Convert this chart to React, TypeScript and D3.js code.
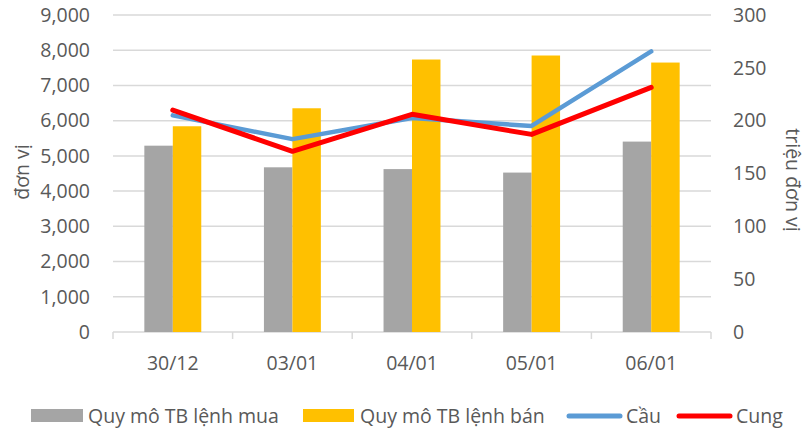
import * as d3 from "d3";

// categories and series values
const dates = ["30/12", "03/01", "04/01", "05/01", "06/01"];
const buySize = [5290, 4676, 4625, 4526, 5406]; // Quy mô TB lệnh mua (đơn vị)
const sellSize = [5841, 6352, 7736, 7850, 7650]; // Quy mô TB lệnh bán (đơn vị)
const demand = [205, 182.5, 202.5, 195, 265.5]; // Cầu (triệu đơn vị)
const supply = [210, 171, 206, 187, 231.5]; // Cung (triệu đơn vị)
const leftTicks = [0, 1000, 2000, 3000, 4000, 5000, 6000, 7000, 8000, 9000];
const rightTicks = [0, 50, 100, 150, 200, 250, 300];

const W = 812;
const H = 433;
const margin = { left: 113, right: 101, top: 15, bottom: 101 };
const font = "'Open Sans', 'Noto Sans', sans-serif";
const textColor = "#595959";
const fs = 19.5;

export default function App() {
  const innerW = W - margin.left - margin.right;
  const innerH = H - margin.top - margin.bottom;

  const x = d3.scaleBand().domain(dates).range([0, innerW]);
  const yL = d3.scaleLinear().domain([0, 9000]).range([innerH, 0]);
  const yR = d3.scaleLinear().domain([0, 300]).range([innerH, 0]);
  const barW = x.bandwidth() * 0.238;
  const fmt = d3.format(",");

  const line = (vals: number[]) =>
    d3
      .line<number>()
      .x((_, i) => (x(dates[i]) ?? 0) + x.bandwidth() / 2)
      .y((d) => yR(d))(vals) ?? "";

  return (
    <svg
      width={W}
      height={H}
      style={{ position: "absolute", left: 0, top: 0, background: "#fff" }}
      fontFamily={font}
    >
      <g transform={`translate(${margin.left},${margin.top})`}>
        {leftTicks.map((t) => (
          <line key={t} x1={0} x2={innerW} y1={yL(t)} y2={yL(t)} stroke="#d9d9d9" strokeWidth={1.5} />
        ))}
        {/* x axis ticks */}
        {d3.range(dates.length + 1).map((i) => (
          <line
            key={i}
            x1={i * x.step()}
            x2={i * x.step()}
            y1={innerH}
            y2={innerH + 7}
            stroke="#d9d9d9"
            strokeWidth={1.5}
          />
        ))}
        {dates.map((d, i) => {
          const c = (x(d) ?? 0) + x.bandwidth() / 2;
          return (
            <g key={d}>
              <rect x={c - barW} y={yL(buySize[i])} width={barW} height={innerH - yL(buySize[i])} fill="#a5a5a5" />
              <rect x={c} y={yL(sellSize[i])} width={barW} height={innerH - yL(sellSize[i])} fill="#ffc000" />
              <text x={c} y={innerH + 31} dy="0.35em" textAnchor="middle" fontSize={fs} fill={textColor}>
                {d}
              </text>
            </g>
          );
        })}
        <path d={line(demand)} fill="none" stroke="#5b9bd5" strokeWidth={4.5} strokeLinecap="round" strokeLinejoin="round" />
        <path d={line(supply)} fill="none" stroke="#ff0000" strokeWidth={5} strokeLinecap="round" strokeLinejoin="round" />
        {leftTicks.map((t) => (
          <text key={t} x={-23} y={yL(t)} dy="0.35em" textAnchor="end" fontSize={fs} fill={textColor}>
            {fmt(t)}
          </text>
        ))}
        {rightTicks.map((t) => (
          <text key={t} x={innerW + 22} y={yR(t)} dy="0.35em" textAnchor="start" fontSize={fs} fill={textColor}>
            {t}
          </text>
        ))}
      </g>
      <text transform="translate(29,172) rotate(-90)" textAnchor="middle" fontSize={fs} fill={textColor}>
        đơn vị
      </text>
      <text transform="translate(786,180) rotate(90)" textAnchor="middle" fontSize={fs} fill={textColor}>
        triệu đơn vị
      </text>
      {/* legend */}
      <g fontSize={fs} fill={textColor}>
        <rect x={31} y={409} width={52} height={13} fill="#a5a5a5" />
        <text x={88} y={416} dy="0.35em">Quy mô TB lệnh mua</text>
        <rect x={303} y={409} width={51} height={13} fill="#ffc000" />
        <text x={360} y={416} dy="0.35em">Quy mô TB lệnh bán</text>
        <line x1={569} x2={620} y1={416} y2={416} stroke="#5b9bd5" strokeWidth={5} strokeLinecap="round" />
        <text x={626} y={416} dy="0.35em">Cầu</text>
        <line x1={679} x2={730} y1={416} y2={416} stroke="#ff0000" strokeWidth={5} strokeLinecap="round" />
        <text x={736} y={416} dy="0.35em">Cung</text>
      </g>
    </svg>
  );
}
